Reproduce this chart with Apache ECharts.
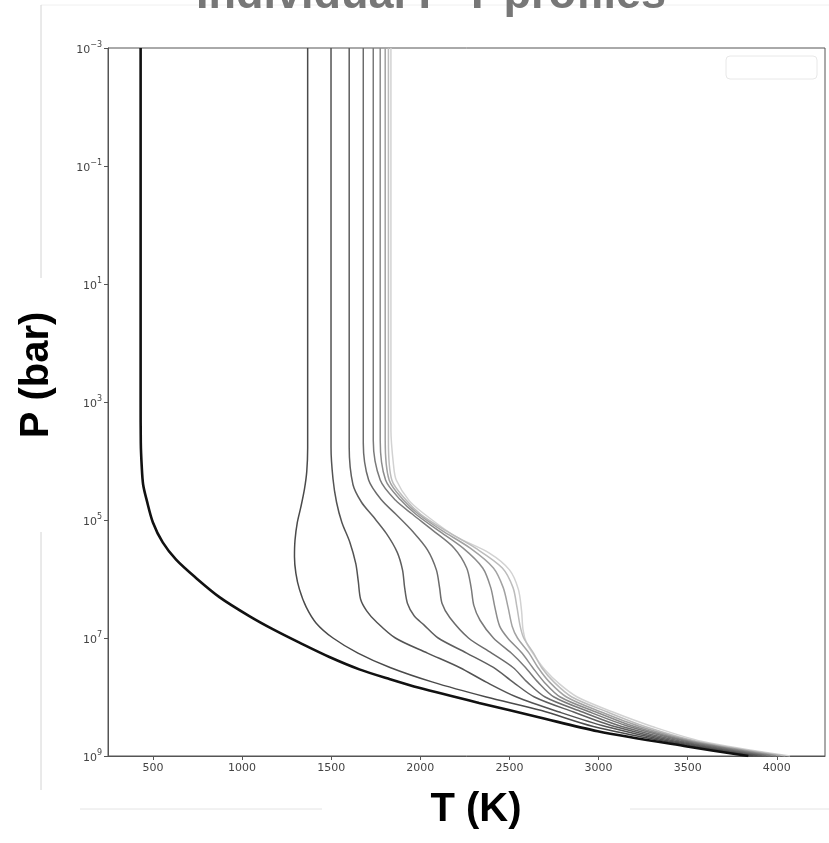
<!DOCTYPE html>
<html>
<head>
<meta charset="utf-8">
<script src="https://cdn.jsdelivr.net/npm/echarts@6/dist/echarts.min.js"></script>
<style>
html, body { margin: 0; padding: 0; background: #fff; }
#chart { width: 829px; height: 843px; }
</style>
</head>
<body>
<div id="chart"></div>
<script>
// temperature (K) / pressure (bar) pairs, read top of atmosphere down
var profile0 = [[431,1e-3],[431,1e3],[432,4.9e3],[437,1.2e4],[445,2.5e4],[465,4.6e4],[500,1.1e5],[555,2.4e5],[630,4.7e5],[740,9.5e5],[875,2.05e6],[1043,4.3e6],[1180,7.3e6],[1322,1.2e7],[1490,2.1e7],[1658,3.4e7],[1830,5e7],[1993,7e7],[2329,1.26e8],[2664,2.2e8],[2995,3.8e8],[3496,6.9e8],[3840,1e9]];
var profile1 = [[1368,1e-3],[1368,6e3],[1363,1.5e4],[1350,3e4],[1330,6e4],[1310,1.1e5],[1297,2.2e5],[1294,4.2e5],[1302,8e5],[1322,1.5e6],[1360,3e6],[1416,5.6e6],[1510,1e7],[1650,1.8e7],[1830,3.16e7],[2070,5.6e7],[2370,1e8],[2680,1.7e8],[2970,3.16e8],[3370,5.6e8],[3865,1e9]];
var profile2 = [[1499,1e-3],[1499,5.8e3],[1510,2e4],[1530,5e4],[1560,1.1e5],[1605,2.4e5],[1638,5.5e5],[1652,1.1e6],[1665,2.2e6],[1700,3.5e6],[1750,5.2e6],[1860,1e7],[2040,1.8e7],[2220,3.16e7],[2370,5.6e7],[2540,1e8],[2780,1.8e8],[3040,3.16e8],[3400,5.6e8],[3890,1e9]];
var profile3 = [[1601,1e-3],[1601,5.8e3],[1622,2.5e4],[1670,5e4],[1732,8.5e4],[1810,1.7e5],[1870,3.5e5],[1900,7e5],[1912,1.4e6],[1928,2.6e6],[1965,4.2e6],[2020,6e6],[2100,1e7],[2260,1.8e7],[2410,3.16e7],[2520,5.6e7],[2640,1e8],[2860,1.8e8],[3090,3.16e8],[3430,5.6e8],[3915,1e9]];
var profile4 = [[1680,1e-3],[1680,5e3],[1710,2.1e4],[1780,4.5e4],[1863,8e4],[1960,1.6e5],[2040,3.2e5],[2090,7e5],[2108,1.4e6],[2122,2.6e6],[2165,4.5e6],[2270,1e7],[2400,1.8e7],[2520,3.16e7],[2600,5.6e7],[2700,1e8],[2910,1.8e8],[3130,3.16e8],[3460,5.6e8],[3940,1e9]];
var profile5 = [[1736,1e-3],[1736,4.5e3],[1775,2.1e4],[1860,4.6e4],[1956,8e4],[2070,1.5e5],[2190,3e5],[2260,6.5e5],[2285,1.4e6],[2300,2.8e6],[2335,5e6],[2410,1e7],[2510,1.8e7],[2590,3.16e7],[2660,5.6e7],[2750,1e8],[2950,1.8e8],[3170,3.16e8],[3490,5.6e8],[3965,1e9]];
var profile6 = [[1775,1e-3],[1775,4.5e3],[1805,2.1e4],[1890,4.6e4],[1975,8e4],[2100,1.5e5],[2240,3e5],[2350,6.5e5],[2395,1.4e6],[2418,3e6],[2445,6.3e6],[2490,1e7],[2570,1.8e7],[2630,3.16e7],[2695,5.6e7],[2785,1e8],[2985,1.8e8],[3200,3.16e8],[3510,5.6e8],[3995,1e9]];
var profile7 = [[1803,1e-3],[1803,4.5e3],[1825,2.1e4],[1905,4.6e4],[1990,8e4],[2120,1.5e5],[2280,3e5],[2410,6.5e5],[2465,1.4e6],[2492,3e6],[2515,6.3e6],[2545,1e7],[2610,1.8e7],[2660,3.16e7],[2725,5.6e7],[2820,1e8],[3015,1.8e8],[3230,3.16e8],[3530,5.6e8],[4020,1e9]];
var profile8 = [[1821,1e-3],[1821,4.5e3],[1840,2.1e4],[1920,4.6e4],[2002,8e4],[2140,1.5e5],[2310,3e5],[2460,6.5e5],[2520,1.4e6],[2542,3e6],[2560,6.3e6],[2580,1e7],[2635,1.8e7],[2680,3.16e7],[2750,5.6e7],[2850,1e8],[3050,1.8e8],[3260,3.16e8],[3550,5.6e8],[4048,1e9]];
var profile9 = [[1835,1e-3],[1835,3e3],[1850,1.2e4],[1865,2.1e4],[1935,4.6e4],[2015,7.6e4],[2198,1.9e5],[2385,3.6e5],[2500,7e5],[2550,1.5e6],[2568,3.5e6],[2576,7.2e6],[2595,1.2e7],[2640,2e7],[2700,3.5e7],[2780,6e7],[2880,1e8],[3080,1.8e8],[3300,3.16e8],[3576,5.6e8],[4074,1e9]];

var tTicks = [500, 1000, 1500, 2000, 2500, 3000, 3500, 4000];
var pTickExponents = [-3, -1, 1, 3, 5, 7, 9];

var profiles = [profile0, profile1, profile2, profile3, profile4, profile5, profile6, profile7, profile8, profile9];
var lineColors = ['#111111', '#4a4a4a', '#535353', '#5e5e5e', '#6b6b6b', '#7a7a7a', '#8c8c8c', '#a2a2a2', '#bcbcbc', '#d2d2d2'];

function powLabel(v) {
	var e = Math.round(Math.log10(v));
	if (pTickExponents.indexOf(e) < 0) return '';
	return '{b|10}{s|' + String(e).replace('-', '\u2212') + '}';
}

var myChart = echarts.init(document.getElementById('chart'));

var series = profiles.map(function(p, i) {
	return {
		type: 'line',
		data: p,
		showSymbol: false,
		smooth: 0.3,
		silent: true,
		z: i === 0 ? 20 : 10 - i * 0.1,
		lineStyle: {
			color: lineColors[i],
			width: i === 0 ? 2.6 : 1.5
		}
	};
});

var option = {
	animation: false,
	backgroundColor: '#fff',
	grid: {
		left: 108,
		top: 48,
		width: 717,
		height: 708,
		show: true,
		borderColor: '#555',
		borderWidth: 1
	},
	xAxis: {
		type: 'value',
		min: 248,
		max: 4270,
		splitLine: { show: false },
		axisLine: { lineStyle: { color: '#555', width: 1 } },
		axisTick: { customValues: tTicks, length: 4, lineStyle: { color: '#555' } },
		axisLabel: {
			customValues: tTicks,
			formatter: function(v) { return String(v); },
			color: '#444',
			fontSize: 11,
			fontFamily: 'DejaVu Sans',
			margin: 7
		}
	},
	yAxis: {
		type: 'log',
		logBase: 10,
		min: 1e-3,
		max: 1e9,
		interval: 2,
		inverse: true,
		splitLine: { show: false },
		axisLine: { lineStyle: { color: '#555', width: 1 } },
		axisTick: { length: 4, lineStyle: { color: '#555' } },
		axisLabel: {
			formatter: powLabel,
			color: '#444',
			fontFamily: 'DejaVu Sans',
			margin: 6,
			rich: {
				b: { fontSize: 11, lineHeight: 15, verticalAlign: 'bottom', color: '#444', fontFamily: 'DejaVu Sans' },
				s: { fontSize: 8, lineHeight: 8, verticalAlign: 'top', color: '#444', fontFamily: 'DejaVu Sans' }
			}
		}
	},
	graphic: [
		{ type: 'line', shape: { x1: 41, y1: 5, x2: 829, y2: 5 }, style: { stroke: '#f0f0f0', lineWidth: 1 } },
		{ type: 'line', shape: { x1: 41, y1: 5, x2: 41, y2: 278 }, style: { stroke: '#d4d4d4', lineWidth: 1 } },
		{ type: 'line', shape: { x1: 41, y1: 532, x2: 41, y2: 790 }, style: { stroke: '#d4d4d4', lineWidth: 1 } },
		{ type: 'line', shape: { x1: 80, y1: 809, x2: 322, y2: 809 }, style: { stroke: '#e4e4e4', lineWidth: 1 } },
		{ type: 'line', shape: { x1: 630, y1: 809, x2: 829, y2: 809 }, style: { stroke: '#e4e4e4', lineWidth: 1 } },
		{ type: 'rect', shape: { x: 726, y: 56, width: 91, height: 23, r: 4 }, style: { fill: 'none', stroke: '#e8e8e8', lineWidth: 1 } },
		{
			type: 'text', x: 431, y: -4,
			style: { text: 'Individual P-T profiles', font: 'bold 45px "Liberation Sans"', fill: '#777', align: 'center', verticalAlign: 'middle' }
		},
		{
			type: 'text', x: 37, y: 375, rotation: Math.PI / 2,
			style: { text: 'P (bar)', font: 'bold 40px "Liberation Sans"', fill: '#000', align: 'center', verticalAlign: 'middle' }
		},
		{
			type: 'text', x: 476, y: 810,
			style: { text: 'T (K)', font: 'bold 40px "Liberation Sans"', fill: '#000', align: 'center', verticalAlign: 'middle' }
		}
	],
	series: series
};

myChart.setOption(option);
</script>
</body>
</html>
